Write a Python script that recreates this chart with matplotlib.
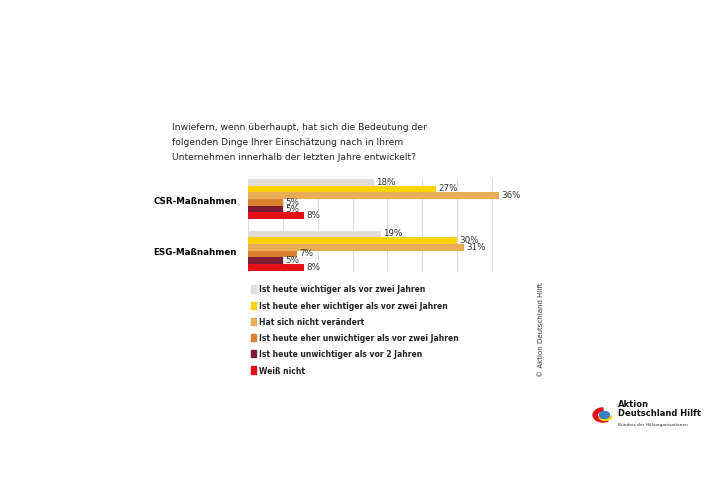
import matplotlib.pyplot as plt
from matplotlib.patches import Rectangle, Wedge

categories = ["CSR-Maßnahmen", "ESG-Maßnahmen"]
series = [
    "Ist heute wichtiger als vor zwei Jahren",
    "Ist heute eher wichtiger als vor zwei Jahren",
    "Hat sich nicht verändert",
    "Ist heute eher unwichtiger als vor zwei Jahren",
    "Ist heute unwichtiger als vor 2 Jahren",
    "Weiß nicht",
]
values = [
    [18, 19],
    [27, 30],
    [36, 31],
    [5, 7],
    [5, 5],
    [8, 8],
]
colors = ["#e2dcd8", "#fcd200", "#e8ad55", "#d9812e", "#7a1c33", "#e3101a"]

plt.rcParams["font.family"] = ["DejaVu Sans"]
fig = plt.figure(figsize=(7.1, 5.02), dpi=100)
ax = fig.add_axes([248 / 710, 1 - 273 / 502, (527 - 248) / 710, 93 / 502])

bh = 6.6
for gi, cat in enumerate(categories):
    top = gi * 51
    for si in range(len(series)):
        y = top + si * bh + bh / 2
        v = values[si][gi]
        ax.barh(y, v, height=bh, color=colors[si])
        ax.text(v + 0.3, y - 1, f"{v}%", va="center", ha="left", fontsize=6.3, color="#333333")
ax.set_yticks([3 * bh, 51 + 3 * bh])
ax.set_yticklabels(categories, fontsize=6.3, fontweight="bold")
ax.set_ylim(92, 0)
ax.set_xlim(0, 40)
ax.set_xticks(range(0, 41, 5))
ax.set_xticklabels([])
ax.tick_params(length=0, pad=8)
ax.grid(axis="x", color="#dddddd", linewidth=0.8)
ax.set_axisbelow(True)
for s in ax.spines.values():
    s.set_visible(False)

fig.text(172 / 710, 1 - 123 / 502,
         "Inwiefern, wenn überhaupt, hat sich die Bedeutung der\n"
         "folgenden Dinge Ihrer Einschätzung nach in Ihrem\n"
         "Unternehmen innerhalb der letzten Jahre entwickelt?",
         fontsize=6.6, va="top", ha="left", linespacing=1.85, color="#222222")

for i, (name, c) in enumerate(zip(series, colors)):
    y = 1 - (290 + i * 16.2) / 502
    fig.patches.append(Rectangle((251 / 710, y - 0.007), 5 / 710, 0.014,
                                 transform=fig.transFigure, color=c))
    fig.text(259 / 710, y, name, fontsize=5.5, fontweight="bold", va="center", color="#222222")

fig.text(541 / 710, 1 - 330 / 502, "© Aktion Deutschland Hilft", rotation=90,
         fontsize=5, va="center", ha="center", color="#333333")

# Logo
lx, ly = 603 / 710, 1 - 416 / 502
fig.patches.append(Wedge((lx, ly), 0.014, 90, 300, width=0.006,
                         transform=fig.transFigure, color="#e3101a"))
fig.patches.append(Wedge((lx + 0.003, ly - 0.002), 0.009, 200, 360, width=0.004,
                         transform=fig.transFigure, color="#fcd200"))
fig.patches.append(Wedge((lx + 0.002, ly), 0.007, 0, 360,
                         transform=fig.transFigure, color="#3a7cc2"))
fig.text(618 / 710, 1 - 409 / 502, "Aktion\nDeutschland Hilft", fontsize=6,
         fontweight="bold", va="center", linespacing=1.0, color="#111111")
fig.text(618 / 710, 1 - 425 / 502, "Bündnis der Hilfsorganisationen", fontsize=3.2,
         va="center", color="#333333")

fig.savefig("out.png", dpi=100)
